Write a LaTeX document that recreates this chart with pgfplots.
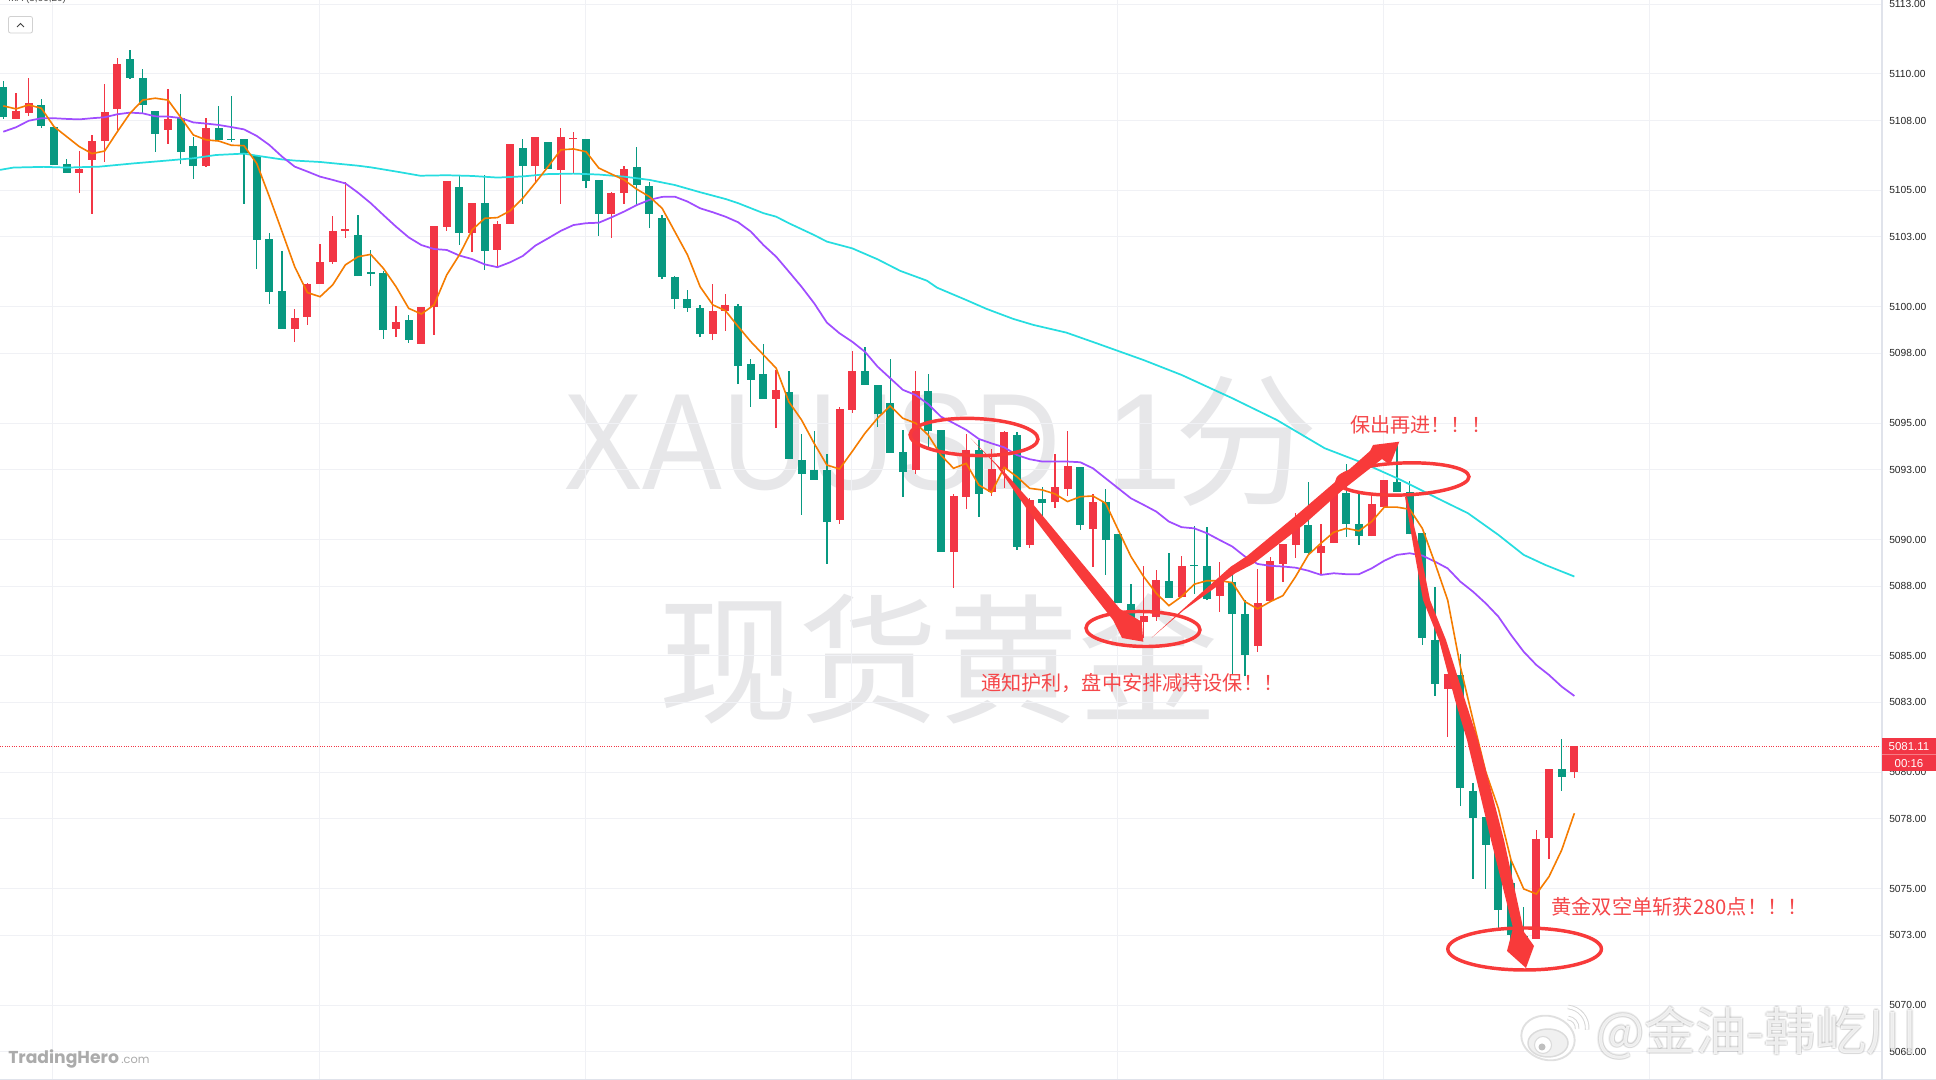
\documentclass[border=0pt]{standalone}
\usepackage{fontspec}
\usepackage{pgfplots}
\pgfplotsset{compat=1.18}
\setmainfont{Liberation Sans}
\newfontfamily\cjk{Noto Sans CJK SC}
\newfontfamily\pop{Poppins}
\definecolor{cG}{HTML}{089981}
\definecolor{cR}{HTML}{F23645}
\definecolor{cO}{HTML}{F57C00}
\definecolor{cP}{HTML}{A04DFF}
\definecolor{cC}{HTML}{26DDE0}
\definecolor{gridc}{HTML}{F0F1F5}
\definecolor{axisc}{HTML}{E0E3EB}
\definecolor{wm}{HTML}{E7E7E9}
\definecolor{ink}{HTML}{F83A3A}
\definecolor{txt}{HTML}{F5474A}
\newcommand{\cndl}[6]{%
  \addplot[forget plot, draw=#1, line width=1pt] coordinates {(#2,#3)(#2,#6)};
  \addplot[forget plot, draw=#1, line width=6pt] coordinates {(#2,#4)(#2,#5)};}
\newcommand{\CG}[5]{\cndl{cG}{#1}{#2}{#3}{#4}{#5}}
\newcommand{\CR}[5]{\cndl{cR}{#1}{#2}{#3}{#4}{#5}}
\tikzset{px/.style={x=0.75pt,y=-0.75pt,shift={(0pt,810pt)}}}
\begin{document}
\begin{tikzpicture}
\useasboundingbox (0pt,0pt) rectangle (1452pt,810pt);
\clip (0pt,0pt) rectangle (1452pt,810pt);
\fill[white] (0pt,0pt) rectangle (1452pt,810pt);
% watermark behind the chart
\begin{scope}[px]
\node[anchor=base west,inner sep=0pt,text=wm,xscale=0.87] at (563,490) {\fontsize{103}{110}\selectfont XAUUSD};
\node[anchor=base west,inner sep=0pt,text=wm] at (1105,490) {\fontsize{103}{110}\selectfont 1};
\node[anchor=center,inner sep=0pt,text=wm] at (1246,441) {\cjk\fontsize{108}{115}\selectfont 分};
\node[anchor=center,inner sep=0pt,text=wm] at (938,659) {\cjk\fontsize{105}{112}\selectfont 现货黄金};
\end{scope}
\begin{axis}[
  at={(0pt,0pt)}, anchor=south west, scale only axis,
  width=1411.5pt, height=810pt,
  xmin=-0.26, xmax=148.28, ymin=5066.78, ymax=5113.18,
  axis line style={draw=none},
  tick style={draw=none},
  major tick length=0pt,
  grid=major, grid style={draw=gridc, line width=0.75pt},
  xtick={3.92,24.92,45.92,66.92,87.92,108.92,129.92},
  xticklabels={},
  ytick={5068,5070,5073,5075,5078,5080,5083,5085,5088,5090,5093,5095,5098,5100,5103,5105,5108,5110,5113},
  yticklabel pos=right,
  scaled y ticks=false,
  yticklabel style={anchor=west, inner sep=0pt, xshift=5.25pt, text=black!85,
    font=\fontsize{7.7}{9}\selectfont,
    /pgf/number format/.cd, fixed, fixed zerofill, precision=2, 1000 sep={}, assume math mode=true},
]
\addplot[forget plot, cR, line width=0.75pt, densely dotted] coordinates {(-0.26,5081.11)(148.28,5081.11)};
\CG{0}{5108.08}{5108.14}{5109.44}{5109.70}
\CR{1}{5108.08}{5108.08}{5108.41}{5109.19}
\CR{2}{5108.21}{5108.34}{5108.75}{5109.83}
\CG{3}{5107.68}{5107.77}{5108.67}{5108.94}
\CG{4}{5106.09}{5106.09}{5107.72}{5107.72}
\CG{5}{5105.75}{5105.75}{5106.13}{5106.35}
\CR{6}{5104.89}{5105.75}{5105.93}{5106.69}
\CR{7}{5103.99}{5106.31}{5107.12}{5107.38}
\CR{8}{5106.22}{5107.12}{5108.37}{5109.57}
\CR{9}{5107.60}{5108.50}{5110.42}{5110.69}
\CG{10}{5109.79}{5109.83}{5110.65}{5111.03}
\CG{11}{5108.31}{5108.67}{5109.83}{5110.22}
\CG{12}{5106.65}{5107.42}{5108.41}{5108.41}
\CR{13}{5107.00}{5107.60}{5108.07}{5109.36}
\CG{14}{5106.13}{5106.65}{5108.11}{5109.14}
\CG{15}{5105.49}{5106.05}{5106.91}{5107.29}
\CR{16}{5106.01}{5106.05}{5107.67}{5108.11}
\CG{17}{5107.17}{5107.17}{5107.67}{5108.63}
\CG{18}{5107.08}{5107.17}{5107.21}{5109.06}
\CG{19}{5104.42}{5106.59}{5107.19}{5107.19}
\CG{20}{5101.62}{5102.87}{5106.48}{5106.48}
\CG{21}{5100.12}{5100.64}{5102.91}{5103.17}
\CG{22}{5099.05}{5099.05}{5100.68}{5102.40}
\CR{23}{5098.49}{5099.05}{5099.52}{5099.91}
\CR{24}{5099.22}{5099.56}{5100.98}{5101.02}
\CR{25}{5100.98}{5100.98}{5101.92}{5102.70}
\CR{26}{5101.84}{5101.92}{5103.26}{5103.90}
\CR{27}{5102.96}{5103.26}{5103.34}{5105.36}
\CG{28}{5101.32}{5101.32}{5103.08}{5103.94}
\CG{29}{5100.89}{5101.41}{5101.50}{5102.44}
\CG{30}{5098.62}{5099.00}{5101.45}{5101.54}
\CR{31}{5098.70}{5099.05}{5099.35}{5100.03}
\CG{32}{5098.46}{5098.57}{5099.43}{5099.65}
\CR{33}{5098.40}{5098.40}{5099.99}{5099.99}
\CR{34}{5098.79}{5099.99}{5103.47}{5103.47}
\CR{35}{5103.26}{5103.43}{5105.40}{5105.40}
\CG{36}{5102.66}{5103.17}{5105.15}{5105.62}
\CR{37}{5102.35}{5103.17}{5104.44}{5104.46}
\CG{38}{5101.58}{5102.40}{5104.46}{5105.66}
\CR{39}{5101.71}{5102.44}{5103.56}{5103.69}
\CR{40}{5103.56}{5103.56}{5107.00}{5107.00}
\CG{41}{5104.42}{5106.05}{5106.82}{5107.21}
\CR{42}{5105.36}{5106.05}{5107.29}{5107.29}
\CG{43}{5105.92}{5105.92}{5107.08}{5107.08}
\CR{44}{5104.42}{5105.88}{5107.29}{5107.68}
\CR{45}{5105.75}{5107.21}{5107.25}{5107.51}
\CG{46}{5105.10}{5105.40}{5107.21}{5107.21}
\CG{47}{5103.04}{5104.00}{5105.45}{5105.45}
\CR{48}{5102.96}{5103.99}{5104.89}{5104.93}
\CR{49}{5104.42}{5104.89}{5105.92}{5106.05}
\CG{50}{5104.37}{5105.23}{5106.01}{5106.86}
\CG{51}{5103.38}{5103.99}{5105.19}{5105.36}
\CG{52}{5101.19}{5101.28}{5103.81}{5103.94}
\CG{53}{5099.91}{5100.33}{5101.28}{5101.32}
\CG{54}{5099.78}{5099.95}{5100.33}{5100.72}
\CG{55}{5098.70}{5098.83}{5099.95}{5100.08}
\CR{56}{5098.57}{5098.83}{5099.83}{5100.98}
\CR{57}{5098.96}{5099.83}{5100.08}{5100.55}
\CG{58}{5096.68}{5097.46}{5100.03}{5100.12}
\CG{59}{5095.70}{5096.86}{5097.54}{5097.76}
\CG{60}{5096.04}{5096.04}{5097.10}{5098.40}
\CR{61}{5094.79}{5096.04}{5096.43}{5097.28}
\CG{62}{5093.46}{5093.46}{5096.34}{5097.24}
\CG{63}{5091.06}{5092.82}{5093.42}{5094.53}
\CG{64}{5092.56}{5092.56}{5092.99}{5094.66}
\CG{65}{5088.95}{5090.75}{5092.97}{5093.68}
\CR{66}{5090.67}{5090.84}{5095.61}{5095.70}
\CR{67}{5095.44}{5095.57}{5097.24}{5098.10}
\CG{68}{5096.64}{5096.64}{5097.24}{5098.27}
\CG{69}{5094.84}{5095.39}{5096.64}{5096.64}
\CG{70}{5093.72}{5093.72}{5095.87}{5097.76}
\CG{71}{5091.83}{5092.90}{5093.76}{5094.71}
\CR{72}{5092.82}{5092.99}{5096.38}{5097.24}
\CG{73}{5093.85}{5094.66}{5096.38}{5097.11}
\CG{74}{5089.47}{5089.47}{5094.71}{5094.71}
\CR{75}{5087.92}{5089.47}{5091.87}{5091.96}
\CR{76}{5091.31}{5091.83}{5093.85}{5094.53}
\CG{77}{5090.97}{5091.96}{5093.85}{5094.28}
\CR{78}{5091.87}{5092.04}{5093.03}{5093.89}
\CR{79}{5092.22}{5093.03}{5094.62}{5094.66}
\CG{80}{5089.55}{5089.68}{5094.49}{5094.62}
\CR{81}{5089.64}{5089.77}{5091.70}{5091.79}
\CG{82}{5090.84}{5091.57}{5091.74}{5092.27}
\CR{83}{5091.36}{5091.60}{5092.26}{5093.68}
\CR{84}{5091.87}{5092.17}{5093.16}{5094.66}
\CG{85}{5090.41}{5090.63}{5093.12}{5093.12}
\CR{86}{5088.82}{5090.45}{5091.61}{5091.96}
\CG{87}{5088.48}{5089.98}{5091.61}{5092.17}
\CG{88}{5087.27}{5087.27}{5090.24}{5090.24}
\CG{89}{5086.26}{5086.26}{5087.23}{5088.09}
\CR{90}{5085.76}{5086.46}{5086.72}{5088.86}
\CR{91}{5086.50}{5086.67}{5088.26}{5088.69}
\CG{92}{5087.49}{5087.49}{5088.22}{5089.42}
\CR{93}{5087.53}{5087.53}{5088.86}{5089.29}
\CG{94}{5087.66}{5088.86}{5088.91}{5090.58}
\CG{95}{5087.40}{5087.45}{5088.86}{5090.54}
\CR{96}{5086.89}{5087.58}{5088.26}{5089.04}
\CG{97}{5084.18}{5086.80}{5088.18}{5088.69}
\CG{98}{5084.14}{5085.04}{5086.80}{5087.40}
\CR{99}{5085.17}{5085.43}{5087.27}{5088.74}
\CR{100}{5087.36}{5087.36}{5089.08}{5089.27}
\CR{101}{5088.18}{5088.95}{5089.81}{5089.81}
\CR{102}{5089.21}{5089.77}{5090.55}{5091.14}
\CG{103}{5089.38}{5089.42}{5090.63}{5092.47}
\CR{104}{5088.52}{5089.42}{5089.72}{5090.67}
\CR{105}{5089.85}{5089.85}{5091.99}{5092.39}
\CG{106}{5090.11}{5090.67}{5092.00}{5093.25}
\CG{107}{5089.77}{5090.15}{5090.67}{5092.04}
\CR{108}{5090.15}{5090.15}{5091.53}{5091.96}
\CR{109}{5091.40}{5091.40}{5092.56}{5092.56}
\CG{110}{5092.04}{5092.04}{5092.47}{5094.21}
\CG{111}{5090.22}{5090.22}{5092.04}{5092.52}
\CG{112}{5085.47}{5085.77}{5090.28}{5090.28}
\CG{113}{5083.28}{5083.79}{5085.69}{5087.98}
\CR{114}{5081.53}{5083.58}{5084.22}{5084.22}
\CG{115}{5078.55}{5079.33}{5084.18}{5085.08}
\CG{116}{5075.42}{5078.04}{5079.18}{5079.53}
\CG{117}{5074.99}{5076.88}{5078.10}{5078.10}
\CG{118}{5073.30}{5074.09}{5076.75}{5077.78}
\CG{119}{5072.37}{5073.01}{5075.23}{5076.23}
\CG{120}{5072.80}{5072.84}{5072.97}{5074.23}
\CR{121}{5072.84}{5072.84}{5077.14}{5077.52}
\CR{122}{5076.28}{5077.18}{5080.14}{5080.14}
\CG{123}{5079.20}{5079.80}{5080.14}{5081.45}
\CR{124}{5079.76}{5080.01}{5081.11}{5081.11}
% cyan average
\addplot[forget plot, cC, line width=1.3pt] coordinates {(-0.26,5105.88)(0.8,5105.98)(3.2,5106.01)(5,5105.98)(7.6,5106.02)(10.3,5106.16)(12.9,5106.28)(15,5106.38)(16.8,5106.52)(19,5106.58)(20,5106.49)(22,5106.33)(23,5106.28)(25,5106.22)(28,5106.06)(29,5105.99)(31,5105.81)(32.9,5105.63)(35,5105.65)(37,5105.62)(39,5105.55)(41,5105.60)(43,5105.70)(45,5105.72)(47,5105.68)(49,5105.59)(51,5105.45)(53,5105.23)(55,5104.92)(57,5104.63)(58,5104.45)(60,5104.02)(61,5103.87)(62,5103.59)(64,5103.08)(65,5102.80)(67,5102.51)(69,5102.04)(70.8,5101.54)(72.9,5101.12)(73.7,5100.82)(76,5100.29)(77.6,5099.91)(79.7,5099.48)(81.3,5099.22)(83.9,5098.89)(86.3,5098.43)(90,5097.71)(93,5097.07)(97,5096.07)(100.5,5095.14)(104.3,5093.92)(107.4,5093.27)(110.3,5092.56)(113.2,5091.77)(115.6,5091.13)(118,5090.20)(120,5089.34)(121.7,5088.91)(124,5088.41)};
% purple average
\addplot[forget plot, cP, line width=1.3pt] coordinates {(0,5107.52)(1,5107.71)(2,5107.99)(3,5108.10)(4,5108.10)(5,5108.07)(6,5108.05)(7,5108.10)(8,5108.14)(9,5108.27)(10,5108.34)(11,5108.31)(12,5108.18)(13,5108.17)(14,5108.11)(15,5107.92)(16,5107.87)(17,5107.81)(18,5107.72)(19,5107.62)(20,5107.34)(21,5106.95)(22,5106.45)(23,5106.02)(24,5105.81)(25,5105.59)(26,5105.45)(27,5105.30)(28,5104.90)(29,5104.45)(30,5103.94)(31,5103.44)(32,5102.98)(33,5102.65)(34,5102.48)(35,5102.44)(36,5102.20)(37,5102.05)(38,5101.82)(39,5101.70)(40,5101.91)(41,5102.18)(42,5102.63)(43,5102.94)(44,5103.26)(45,5103.51)(46,5103.59)(47,5103.61)(48,5103.84)(49,5104.09)(50,5104.37)(51,5104.59)(52,5104.72)(53,5104.73)(54,5104.52)(55,5104.23)(56,5104.06)(57,5103.87)(58,5103.63)(59,5103.23)(60,5102.65)(61,5102.15)(62,5101.51)(63,5100.86)(64,5100.15)(65,5099.32)(66,5098.86)(67,5098.50)(68,5098.07)(69,5097.43)(70,5096.93)(71,5096.43)(72,5096.21)(73,5095.82)(74,5095.28)(75,5095.00)(76,5094.71)(77,5094.32)(78,5094.13)(79,5093.96)(80,5093.63)(81,5093.45)(82,5093.35)(83,5093.35)(84,5093.35)(85,5093.32)(86,5093.06)(87,5092.63)(88,5092.20)(89,5091.77)(90,5091.49)(91,5091.20)(92,5090.77)(93,5090.53)(94,5090.48)(95,5090.27)(96,5089.98)(97,5089.70)(98,5089.27)(99,5088.95)(100,5088.87)(101,5088.84)(102,5088.79)(103,5088.66)(104,5088.48)(105,5088.55)(106,5088.51)(107,5088.51)(108,5088.76)(109,5089.09)(110,5089.34)(111,5089.41)(112,5089.31)(113,5089.05)(114,5088.76)(115,5088.19)(116,5087.76)(117,5087.26)(118,5086.69)(119,5085.90)(120,5085.18)(121,5084.61)(122,5084.18)(123,5083.68)(124,5083.28)};
% orange average
\addplot[forget plot, cO, line width=1.2pt] coordinates {(0,5108.63)(1,5108.50)(2,5108.67)(3,5108.53)(4,5107.74)(5,5107.31)(6,5106.88)(7,5106.58)(8,5106.69)(9,5107.52)(10,5108.31)(11,5108.88)(12,5108.96)(13,5108.88)(14,5108.14)(15,5107.38)(16,5107.17)(17,5107.12)(18,5106.94)(19,5106.92)(20,5106.16)(21,5104.73)(22,5103.23)(23,5101.72)(24,5100.61)(25,5100.43)(26,5100.94)(27,5101.80)(28,5102.15)(29,5102.25)(30,5101.65)(31,5100.86)(32,5099.93)(33,5099.69)(34,5100.08)(35,5101.37)(36,5102.23)(37,5103.30)(38,5103.80)(39,5103.83)(40,5104.12)(41,5104.66)(42,5105.33)(43,5106.02)(44,5106.74)(45,5106.78)(46,5106.66)(47,5105.96)(48,5105.70)(49,5105.45)(50,5105.05)(51,5104.73)(52,5104.23)(53,5103.23)(54,5102.23)(55,5100.86)(56,5100.08)(57,5099.83)(58,5099.15)(59,5098.50)(60,5097.93)(61,5097.36)(62,5095.92)(63,5095.14)(64,5094.13)(65,5093.20)(66,5093.03)(67,5093.78)(68,5094.56)(69,5095.21)(70,5095.74)(71,5095.21)(72,5095.00)(73,5094.49)(74,5093.63)(75,5093.06)(76,5093.27)(77,5092.34)(78,5092.02)(79,5093.10)(80,5092.70)(81,5092.20)(82,5092.13)(83,5091.96)(84,5091.63)(85,5091.84)(86,5091.87)(87,5091.56)(88,5090.41)(89,5089.27)(90,5088.41)(91,5087.69)(92,5087.16)(93,5087.55)(94,5088.08)(95,5088.23)(96,5088.23)(97,5088.15)(98,5087.33)(99,5087.02)(100,5087.33)(101,5087.59)(102,5088.41)(103,5089.34)(104,5089.84)(105,5090.31)(106,5090.48)(107,5090.37)(108,5090.77)(109,5091.39)(110,5091.39)(111,5091.30)(112,5090.48)(113,5088.98)(114,5087.40)(115,5084.54)(116,5082.25)(117,5080.03)(118,5078.45)(119,5076.23)(120,5074.99)(121,5074.77)(122,5075.52)(123,5076.66)(124,5078.24)};
\end{axis}
\begin{scope}[px]
% axis frame
\draw[axisc,line width=1pt] (1882,0) -- (1882,1080);
\draw[axisc,line width=0.75pt] (0,1079.5) -- (1936,1079.5);
% last price label
\fill[cR] (1882,738) rectangle (1936,771);
\draw[white,opacity=0.35,line width=0.5pt] (1882,754.5) -- (1936,754.5);
\node[text=white,inner sep=0pt] at (1909,746.5) {\fontsize{8.6}{9}\selectfont 5081.11};
\node[text=white,inner sep=0pt] at (1909,763.5) {\fontsize{8.6}{9}\selectfont 00:16};
% top-left controls
\node[anchor=west,inner sep=0pt,text=black!70] at (8,-1) {\fontsize{7.5}{9}\selectfont MA (5,60,20)};
\draw[black!18,fill=white,rounded corners=1.5pt,line width=0.6pt] (8.5,16.5) rectangle (32.5,33);
\draw[black!75,line width=0.7pt] (17,27) -- (20.5,23.5) -- (24,27);
% logo
\node[anchor=base west,inner sep=0pt,text=black!33] at (8,1064) {\pop\bfseries\fontsize{12.9}{15}\selectfont TradingHero};
\node[anchor=base west,inner sep=0pt,text=black!33] at (121,1064) {\pop\fontsize{8.5}{10}\selectfont .com};
% annotation shapes
\draw[ink,line width=2.6pt,rotate around={-2:(974,437)}] (974,437) ellipse [x radius=64, y radius=18.5];
\draw[ink,line width=2.6pt,rotate around={-1:(1143,629)}] (1143,629) ellipse [x radius=57, y radius=17.5];
\draw[ink,line width=2.6pt,rotate around={2:(1403,479)}] (1403,479) ellipse [x radius=66, y radius=16];
\draw[ink,line width=2.6pt] (1524.6,949) ellipse [x radius=76.8, y radius=21];
% annotation arrows
\fill[ink] (970.7,438.3) -- (997.1,464.7) -- (1006.2,474.1) -- (1033,504.2) -- (1087.5,569.8) -- (1120,609) -- (1141.7,621.7) -- (1143.3,641.7) -- (1122,638) -- (1113,620) -- (1079.1,576.8) -- (1027,509.2) -- (1003.8,475.9) -- (996.3,465.3) -- cycle;
\fill[ink] (1151.7,637.7) -- (1182.6,609.5) -- (1230.5,566.9) -- (1246.9,556.1) -- (1296.3,515.3) -- (1336.6,480.7) -- (1370,451) -- (1373,445) -- (1399.3,441.7) -- (1390,465) -- (1382,459) -- (1343.4,489.3) -- (1303.7,524.7) -- (1253.1,563.9) -- (1235.5,573.1) -- (1183.4,610.5) -- cycle;
\fill[ink] (1405,497) -- (1414,550) -- (1423,600) -- (1439,640) -- (1455,700) -- (1467,740) -- (1491,840) -- (1513,928) -- (1507,951) -- (1526,968) -- (1534,946) -- (1524,932) -- (1504,840) -- (1478,740) -- (1465,700) -- (1446,640) -- (1430,600) -- (1420,550) -- (1407,497) -- cycle;
% annotation texts
\node[anchor=west,inner sep=0pt,text=txt] at (981,683) {\cjk\fontsize{15.1}{17}\selectfont 通知护利，盘中安排减持设保！！};
\node[anchor=west,inner sep=0pt,text=txt] at (1350,425) {\cjk\fontsize{15.1}{17}\selectfont 保出再进！！！};
\node[anchor=west,inner sep=0pt,text=txt] at (1551,907) {\cjk\fontsize{15.2}{17}\selectfont 黄金双空单斩获280点！！！};
% weibo watermark
\foreach \dx/\dy in {-1.5/0,1.5/0,0/-1.5,0/1.5,1.2/1.2,-1.2/1.2,1.2/-1.2,-1.2/-1.2}{
  \node[anchor=center,inner sep=0pt,text=black,text opacity=0.05] at (1757+\dx,1033+\dy) {\cjk\fontsize{38.3}{41}\selectfont @金油-韩屹川};
}
\node[anchor=center,inner sep=0pt,text=white,text opacity=0.8] at (1757,1033) {\cjk\fontsize{38.3}{41}\selectfont @金油-韩屹川};
\draw[black!12,fill=white,line width=1.4pt,rotate around={-15:(1548,1038)}] (1548,1038) ellipse [x radius=27, y radius=22];
\draw[black!14,fill=black!6,line width=1.1pt] (1548,1043) ellipse [x radius=20, y radius=14];
\draw[black!14,fill=white,line width=0.8pt] (1543,1045) circle (8.5);
\fill[black!25] (1542,1047) circle (3.5);
\draw[black!16,line width=3.4pt] (1568,1007) arc (-85:5:21);
\draw[white,line width=2pt] (1568,1007) arc (-85:5:21);
\draw[black!16,line width=3.4pt] (1568,1018) arc (-85:5:10);
\draw[white,line width=2pt] (1568,1018) arc (-85:5:10);
\end{scope}
\end{tikzpicture}
\end{document}
